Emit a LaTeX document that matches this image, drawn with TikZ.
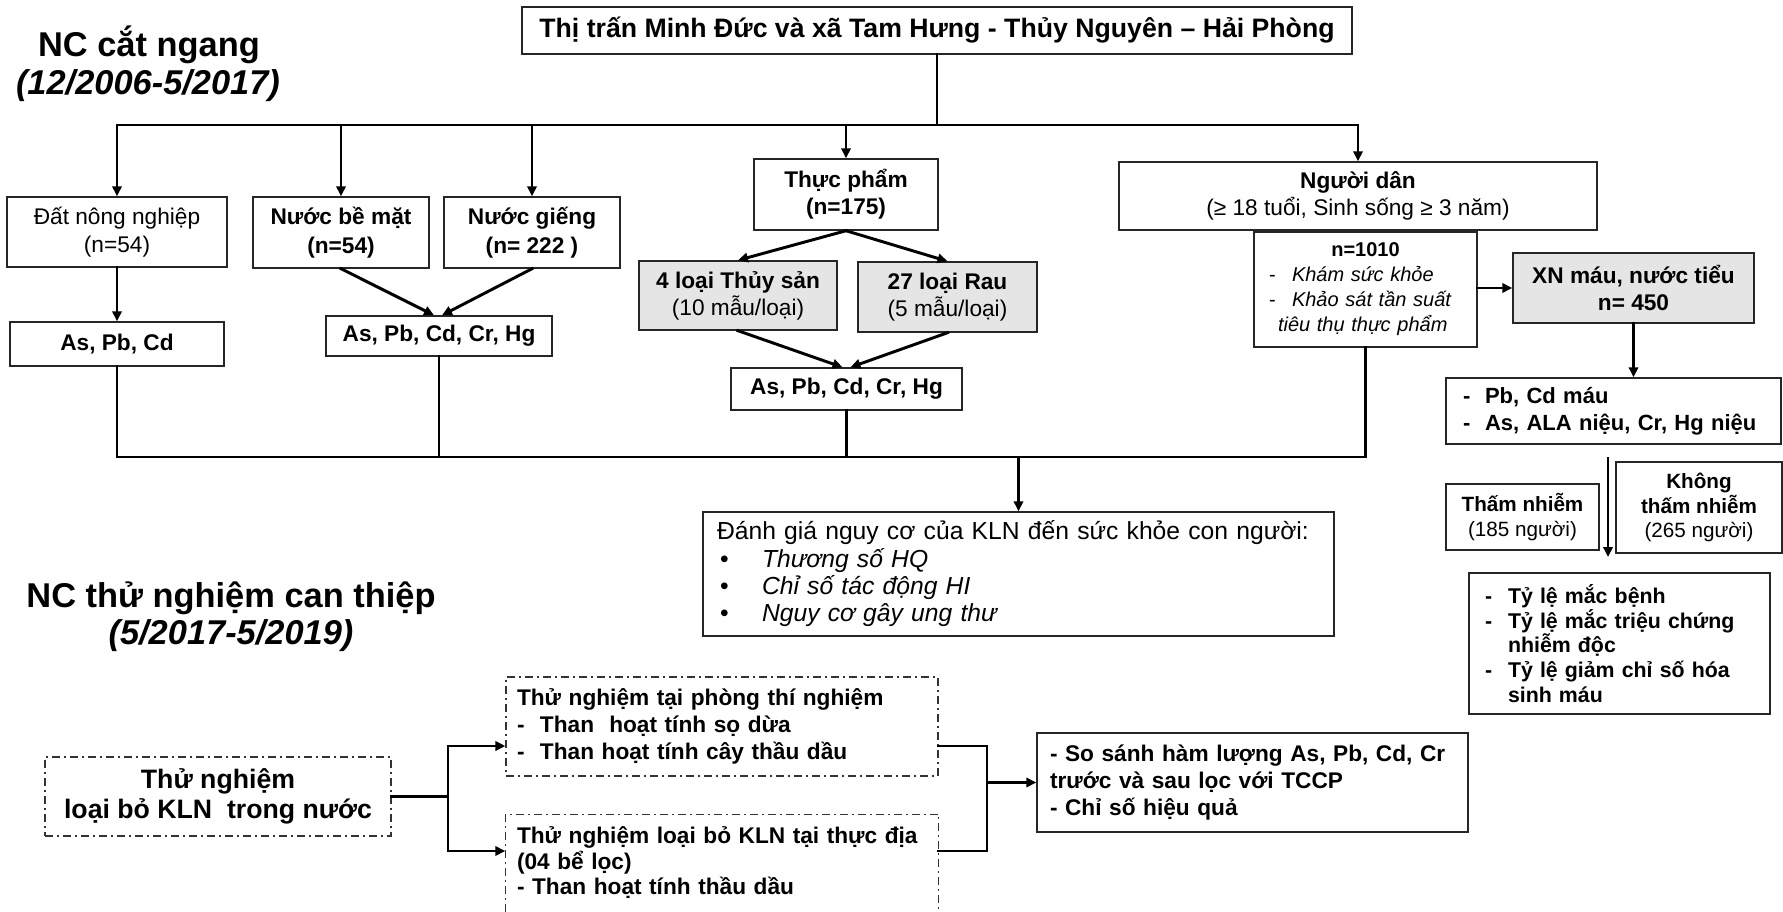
\documentclass[tikz,border=0pt]{standalone}
\usepackage{fontspec}
\setmainfont{Liberation Sans}
\usetikzlibrary{arrows.meta,calc}
\newcommand{\myfs}[2]{\fontsize{#1}{#2}\selectfont}
\begin{document}
\begin{tikzpicture}[x=0.75pt,y=-0.75pt,
  box/.style={draw=black!85, line width=1.1pt, inner sep=0pt, align=center, fill=white},
  grey/.style={box, fill=black!10},
  lbox/.style={box, align=left},
  dd/.style={draw=black!80, line width=0.9pt, dash pattern=on 6pt off 3pt on 1.5pt off 3pt},
  ln/.style={line width=2.2pt, black, line cap=rect},
  ar/.style={ln, -{Triangle[length=7.5pt,width=7pt]}},
  ttl/.style={font=\bfseries\myfs{25.8}{30}, inner sep=0pt},
]
\useasboundingbox (0,0) rectangle (1783,912);
\clip (0,0) rectangle (1783,912);

% titles
\node[ttl] (t1) at (149,45) {NC cắt ngang};
\node[ttl, font=\bfseries\itshape\myfs{25.8}{30}] (t1d) at (148,86) {(12/2006-5/2017)};
\node[ttl] (t2) at (231,598) {NC thử nghiệm can thiệp};
\node[ttl, font=\bfseries\itshape\myfs{25.8}{30}] (t2d) at (231,636) {(5/2017-5/2019)};

% top
\node[box, minimum width=622.5pt, minimum height=35.25pt, font=\bfseries\myfs{20}{24}] (top) at (937,30.5)
  {Thị trấn Minh Đức và xã Tam Hưng - Thủy Nguyên – Hải Phòng};

% level 1
\node[box, minimum width=165pt, minimum height=52.5pt, font=\myfs{17}{21.5}] (dat) at (117,232) {Đất nông nghiệp\\(n=54)};
\node[box, minimum width=132pt, minimum height=53.25pt, font=\bfseries\myfs{17}{21.5}] (nbm) at (341,232.5) {Nước bề mặt\\(n=54)};
\node[box, minimum width=132pt, minimum height=53.25pt, font=\bfseries\myfs{17}{21.5}] (ng) at (532,232.5) {Nước giếng\\(n= 222 )};
\node[box, minimum width=138pt, minimum height=53.25pt, font=\bfseries\myfs{17}{20}] (tp) at (846,194.5) {Thực phẩm\\(n=175)};
\node[box, minimum width=358.5pt, minimum height=51pt, font=\myfs{17}{20.25}] (nd) at (1358,196) {\textbf{Người dân}\\(≥ 18 tuổi, Sinh sống ≥ 3 năm)};

% level 2
\node[box, minimum width=160.5pt, minimum height=33pt, font=\bfseries\myfs{17}{20}] (asdat) at (117,344) {As, Pb, Cd};
\node[box, minimum width=169.5pt, minimum height=30pt, font=\bfseries\myfs{17}{20}] (asnuoc) at (439,336) {As, Pb, Cd, Cr, Hg};
\node[grey, minimum width=148.5pt, minimum height=51.75pt, font=\myfs{17}{20.25}] (ts) at (738,295.5) {\textbf{4 loại Thủy sản}\\(10 mẫu/loại)};
\node[grey, minimum width=134.25pt, minimum height=52.5pt, font=\myfs{17}{20.25}] (rau) at (947.5,297) {\textbf{27 loại Rau}\\(5 mẫu/loại)};
\node[box, minimum width=173.25pt, minimum height=31.5pt, font=\bfseries\myfs{17}{20}] (astp) at (846.5,389) {As, Pb, Cd, Cr, Hg};

\node[lbox, minimum width=167.25pt, minimum height=86.25pt, inner xsep=11.25pt, text width=144.75pt, font=\myfs{15}{18.75}] (n1010) at (1365.5,289.5)
  {\makebox[\linewidth]{\bfseries n=1010}\\
   \makebox[17.25pt][l]{-}\textit{Khám sức khỏe}\\
   \makebox[17.25pt][l]{-}\textit{Khảo sát tần suất}\\
   \hspace*{6.75pt}\textit{tiêu thụ thực phẩm}};
\node[grey, minimum width=180.75pt, minimum height=52.5pt, font=\bfseries\myfs{17}{20.25}] (xn) at (1633.5,288) {XN máu, nước tiểu\\n= 450};
\node[lbox, minimum width=251.25pt, minimum height=49.5pt, inner xsep=12.75pt, text width=225.75pt, font=\bfseries\myfs{16.5}{20.25}] (pb) at (1613.5,411)
  {\makebox[16.5pt][l]{-}Pb, Cd máu\\
   \makebox[16.5pt][l]{-}As, ALA niệu, Cr, Hg niệu};
\node[box, minimum width=114.75pt, minimum height=49.5pt, font=\myfs{15.5}{18.75}] (tham) at (1522.5,517) {\textbf{Thấm nhiễm}\\(185 người)};
\node[box, minimum width=124.5pt, minimum height=68.25pt, font=\myfs{15.5}{18.5}] (khong) at (1699,507.5) {\textbf{Không}\\\textbf{thấm nhiễm}\\(265 người)};
\node[lbox, minimum width=225.75pt, minimum height=105.75pt, inner xsep=12pt, text width=201.75pt, font=\bfseries\myfs{16}{18.6}] (tyle) at (1619.5,643.5)
  {\makebox[17.25pt][l]{-}Tỷ lệ mắc bệnh\\
   \makebox[17.25pt][l]{-}Tỷ lệ mắc triệu chứng\\
   \hspace*{17.25pt}nhiễm độc\\
   \makebox[17.25pt][l]{-}Tỷ lệ giảm chỉ số hóa\\
   \hspace*{17.25pt}sinh máu};

\node[lbox, minimum width=473.25pt, minimum height=93pt, inner xsep=10.5pt, text width=452.25pt, font=\myfs{18.5}{20.5}] (dg) at (1018.5,574)
  {Đánh giá nguy cơ của KLN đến sức khỏe con người:\\
   \makebox[33.75pt][l]{\hspace{2.25pt}•}\textit{Thương số HQ}\\
   \makebox[33.75pt][l]{\hspace{2.25pt}•}\textit{Chỉ số tác động HI}\\
   \makebox[33.75pt][l]{\hspace{2.25pt}•}\textit{Nguy cơ gây ung thư}};

% intervention part
\node[box, dd, minimum width=259.5pt, minimum height=59.25pt, font=\bfseries\myfs{20}{22.5}] (tn) at (218,796.5) {Thử nghiệm\\loại bỏ KLN\ \ trong nước};
\node[lbox, dd, minimum width=324pt, minimum height=74.25pt, inner xsep=8.25pt, text width=307.5pt, font=\bfseries\myfs{17}{20.25}] (ptn) at (722,726.5)
  {Thử nghiệm tại phòng thí nghiệm\\
   \makebox[17.25pt][l]{-}Than\ \ hoạt tính sọ dừa\\
   \makebox[17.25pt][l]{-}Than hoạt tính cây thầu dầu};
\node[lbox, draw=none, minimum width=324pt, minimum height=72pt, inner xsep=8.25pt, text width=307.5pt, font=\bfseries\myfs{17}{19.1}] (td) at (722,863)
  {Thử nghiệm loại bỏ KLN tại thực địa\\
   (04 bể lọc)\\
   - Than hoạt tính thầu dầu};
\draw[dd] (td.south west) -- (td.north west) -- (td.north east) -- (td.south east);
\node[lbox, minimum width=323.25pt, minimum height=74.25pt, inner xsep=9.75pt, text width=303.75pt, font=\bfseries\myfs{17}{20.25}] (ss) at (1252.5,782.5)
  {- So sánh hàm lượng As, Pb, Cd, Cr\\
   trước và sau lọc với TCCP\\
   - Chỉ số hiệu quả};

% connectors: top bus
\coordinate (busL) at (117,125);
\coordinate (busR) at (1358,125);
\draw[ln] (top.south) -- (top.south |- busL);
\draw[ln] (busL) -- (busR);
\draw[ar] (busL) -- (dat.north);
\draw[ar] (nbm.north |- busL) -- (nbm.north);
\draw[ar] (ng.north |- busL) -- (ng.north);
\draw[ar] (tp.north |- busL) -- (tp.north);
\draw[ar] (busR) -- (nd.north);

\draw[ar] (dat.south) -- (asdat.north);
\draw[ar] (nbm.south) -- ($(asnuoc.north)+(-5,0)$);
\draw[ar] (ng.south) -- ($(asnuoc.north)+(3,0)$);
\draw[ar] (tp.south) -- (ts.north);
\draw[ar] (tp.south) -- (rau.north);
\draw[ar] (ts.south) -- ($(astp.north)+(-4,0)$);
\draw[ar] (rau.south) -- ($(astp.north)+(4,0)$);

% bottom bus
\coordinate (bus2L) at (117,457);
\draw[ln] (asdat.south) -- (bus2L);
\draw[ln] (asnuoc.south) -- (asnuoc.south |- bus2L);
\draw[ln] (astp.south) -- (astp.south |- bus2L);
\draw[ln] (n1010.south) -- (n1010.south |- bus2L);
\draw[ln] (bus2L) -- (n1010.south |- bus2L);
\draw[ar] (dg.north |- bus2L) -- (dg.north);

% right branch
\draw[ar] (n1010.east |- xn.west) -- (xn.west);
\draw[ar] (xn.south) -- (xn.south |- pb.north);
\coordinate (v1) at (1608,458);
\coordinate (v2) at (1608,557);
\draw[ar] (v1) -- (v2);

% intervention connectors
\coordinate (ja) at (448,746);
\coordinate (jb) at (448,851);
\draw[ln] (tn.east) -- (tn.east -| ja);
\draw[ln] (ja) -- (jb);
\draw[ar] (ja) -- (ja -| ptn.west);
\draw[ar] (jb) -- (jb -| td.west);
\coordinate (jc) at (987,746);
\coordinate (jd) at (987,851);
\draw[ln] (jc -| ptn.east) -- (jc) -- (jd) -- (jd -| td.east);
\draw[ar] (jc |- ss.west) -- (ss.west);
\end{tikzpicture}
\end{document}
